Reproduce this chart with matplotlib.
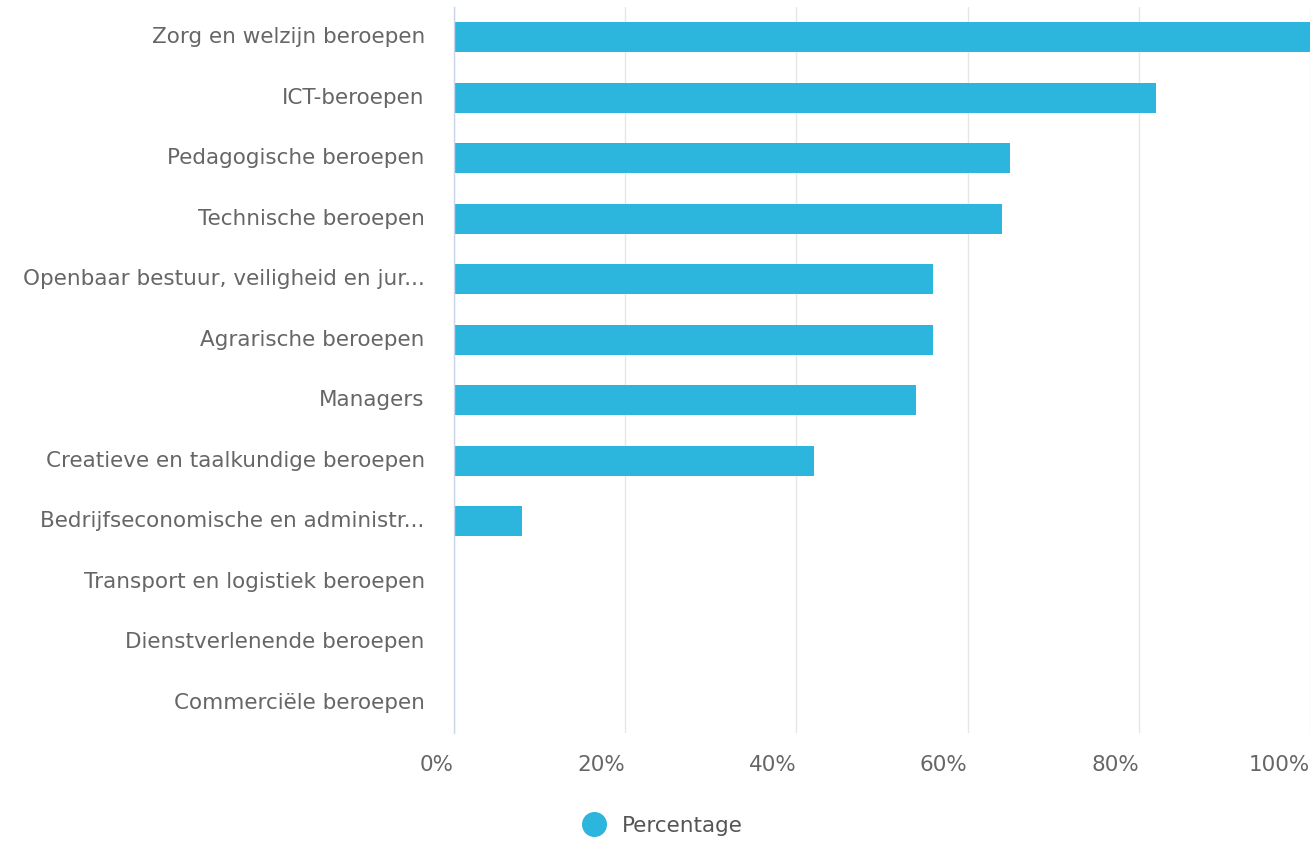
import matplotlib
matplotlib.use("Agg")
import matplotlib.pyplot as plt
from matplotlib.lines import Line2D

categories = [
    "Zorg en welzijn beroepen",
    "ICT-beroepen",
    "Pedagogische beroepen",
    "Technische beroepen",
    "Openbaar bestuur, veiligheid en jur...",
    "Agrarische beroepen",
    "Managers",
    "Creatieve en taalkundige beroepen",
    "Bedrijfseconomische en administr...",
    "Transport en logistiek beroepen",
    "Dienstverlenende beroepen",
    "Commerciële beroepen",
]
values = [100, 82, 65, 64, 56, 56, 54, 42, 8, 0, 0, 0]
xticks = [0, 20, 40, 60, 80, 100]
xtick_labels = ["0%", "20%", "40%", "60%", "80%", "100%"]
series_name = "Percentage"

plt.rcParams['font.family'] = ['DejaVu Sans']

fig = plt.figure(figsize=(13.13, 8.41), dpi=100)
ax = fig.add_axes([454/1313, 1 - 733/841, (1310-454)/1313, (733-7)/841])

color = "#2cb5dd"
fs = 15.5
ypos = list(range(len(categories)))
ax.barh(ypos, values, height=0.5, color=color, zorder=3)
ax.set_ylim(len(categories) - 0.5, -0.5)
ax.set_xlim(0, 100)
ax.set_yticks(ypos)
ax.set_yticklabels(categories, fontsize=fs, color="#666666")
ax.set_xticks(xticks)
ax.set_xticklabels(xtick_labels, fontsize=fs, color="#666666")
ax.tick_params(axis='both', length=0)
ax.tick_params(axis='y', pad=21)
ax.tick_params(axis='x', pad=16)
for lbl in ax.get_xticklabels():
    lbl.set_horizontalalignment('right')
for lbl in ax.get_yticklabels():
    lbl.set_verticalalignment('center')
ax.xaxis.grid(True, color="#e6e6e6", linewidth=1, zorder=0)
for s in ["top", "right", "bottom"]:
    ax.spines[s].set_visible(False)
ax.spines["left"].set_color("#ccd6eb")
ax.spines["left"].set_linewidth(1)
ax.spines["left"].set_zorder(4)

handle = Line2D([], [], marker='o', linestyle='None', markersize=17,
                markerfacecolor=color, markeredgecolor=color)
fig.legend([handle], [series_name], loc='center', bbox_to_anchor=(663/1313, 1 - 826/841),
           frameon=False, fontsize=fs, labelcolor="#555555", handletextpad=0.8,
           handlelength=1.0)

fig.savefig("out.png", dpi=100)
